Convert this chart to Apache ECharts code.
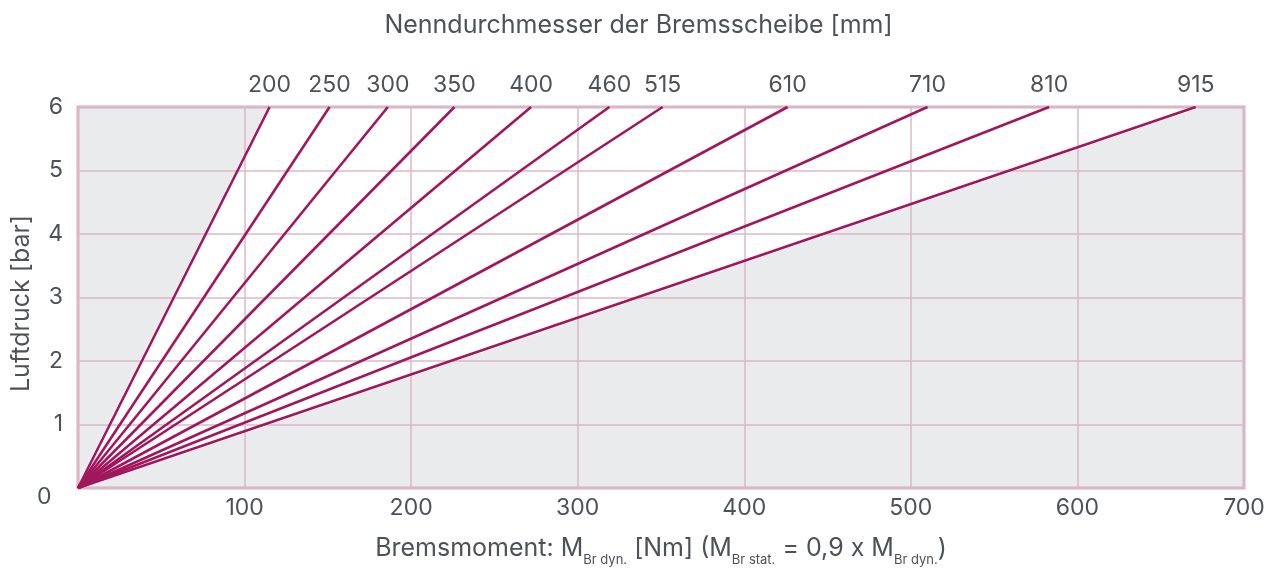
<!DOCTYPE html>
<html>
<head>
<meta charset="utf-8">
<script src="https://cdn.jsdelivr.net/npm/echarts@6/dist/echarts.min.js"></script>
<style>
  html, body { margin: 0; padding: 0; background: #ffffff; }
  #chart { width: 1277px; height: 572px; }
</style>
</head>
<body>
<div id="chart"></div>
<script>
// Nominal brake disc diameters [mm]
const diameters = ['200', '250', '300', '350', '400', '460', '515', '610', '710', '810', '915'];
// Braking torque [Nm] reached at 6 bar for each diameter
const torqueAt6bar = [115, 151, 186, 226, 272, 319, 351, 426, 510, 583, 671];
// Air pressure at the end of each characteristic [bar]
const maxPressure = 6;
// Axis ranges
const xMax = 700, xStep = 100;
const yMax = 6, yStep = 1;

const textColor = '#4b5359';
const lineColor = '#a1175d';
const gridColor = '#dcb8c7';
const borderColor = '#d6aebe';
const fontFamily = 'Inter, Roboto, sans-serif';

const chart = echarts.init(document.getElementById('chart'), null, { renderer: 'canvas' });

// One straight characteristic per disc size, from the origin to its 6 bar point
const lineSeries = diameters.map((d, i) => ({
  name: d,
  type: 'line',
  z: 3,
  symbol: 'circle',
  symbolSize: 0,
  showSymbol: true,
  lineStyle: { color: lineColor, width: 2.6 },
  itemStyle: { color: lineColor },
  emphasis: { disabled: true },
  data: [
    { value: [0, 0] },
    {
      value: [torqueAt6bar[i], maxPressure],
      label: {
        show: true,
        position: 'top',
        distance: 10,
        formatter: d,
        color: textColor,
        fontSize: 23,
        fontFamily: fontFamily
      }
    }
  ]
}));

// Working range background: grey plot area with a white wedge between the smallest and largest disc
const rangeSeries = {
  type: 'custom',
  z: -5,
  silent: true,
  data: [[0]],
  renderItem: function (params, api) {
    const p0 = api.coord([0, 0]);
    const pTopLeft = api.coord([0, yMax]);
    const pBottomRight = api.coord([xMax, 0]);
    const pFirst = api.coord([torqueAt6bar[0], maxPressure]);
    const pLast = api.coord([torqueAt6bar[torqueAt6bar.length - 1], maxPressure]);
    return {
      type: 'group',
      children: [
        {
          type: 'rect',
          shape: {
            x: pTopLeft[0], y: pTopLeft[1],
            width: pBottomRight[0] - pTopLeft[0],
            height: pBottomRight[1] - pTopLeft[1]
          },
          style: { fill: '#eaebed' }
        },
        {
          type: 'polygon',
          shape: { points: [p0, pFirst, pLast] },
          style: { fill: '#ffffff', stroke: '#ffffff', lineWidth: 4 }
        }
      ]
    };
  }
};

const option = {
  animation: false,
  backgroundColor: '#ffffff',
  title: {
    text: 'Nenndurchmesser der Bremsscheibe [mm]',
    left: 'center',
    top: 8,
    textStyle: { color: textColor, fontSize: 25, fontWeight: 'normal', fontFamily: fontFamily }
  },
  grid: {
    left: 78,
    right: 33,
    top: 107,
    bottom: 84,
    containLabel: false,
    outerBoundsMode: 'none',
    show: true,
    backgroundColor: 'transparent',
    borderColor: borderColor,
    borderWidth: 3
  },
  xAxis: {
    type: 'value',
    min: 0,
    max: xMax,
    interval: xStep,
    axisLine: { show: false },
    axisTick: { show: false },
    splitLine: { show: true, lineStyle: { color: gridColor, width: 1.5 } },
    axisLabel: {
      showMinLabel: false,
      margin: 9,
      color: textColor,
      fontSize: 23,
      fontFamily: fontFamily
    },
    name: '{m|Bremsmoment: M}{s|Br dyn.}{m| [Nm] (M}{s|Br stat.}{m| = 0,9 x M}{s|Br dyn.}{m|)}',
    nameLocation: 'middle',
    nameGap: 42,
    nameTextStyle: {
      color: textColor,
      fontFamily: fontFamily,
      rich: {
        m: { fontSize: 25, lineHeight: 37, verticalAlign: 'middle', color: textColor, fontFamily: fontFamily },
        s: { fontSize: 13, lineHeight: 13, verticalAlign: 'bottom', color: textColor, fontFamily: fontFamily }
      }
    }
  },
  yAxis: {
    type: 'value',
    min: 0,
    max: yMax,
    interval: yStep,
    axisLine: { show: false },
    axisTick: { show: false },
    splitLine: { show: true, lineStyle: { color: gridColor, width: 1.5 } },
    axisLabel: {
      showMinLabel: false,
      margin: 15,
      color: textColor,
      fontSize: 23,
      fontFamily: fontFamily
    },
    name: 'Luftdruck [bar]',
    nameLocation: 'middle',
    nameGap: 44,
    nameRotate: 90,
    nameTextStyle: { color: textColor, fontSize: 25, fontFamily: fontFamily, padding: [0, 12, 0, 0] }
  },
  graphic: [
    {
      type: 'text',
      left: 37,
      top: 486,
      style: { text: '0', fill: textColor, fontSize: 23, fontFamily: fontFamily }
    }
  ],
  series: [rangeSeries].concat(lineSeries)
};

chart.setOption(option);
</script>
</body>
</html>
